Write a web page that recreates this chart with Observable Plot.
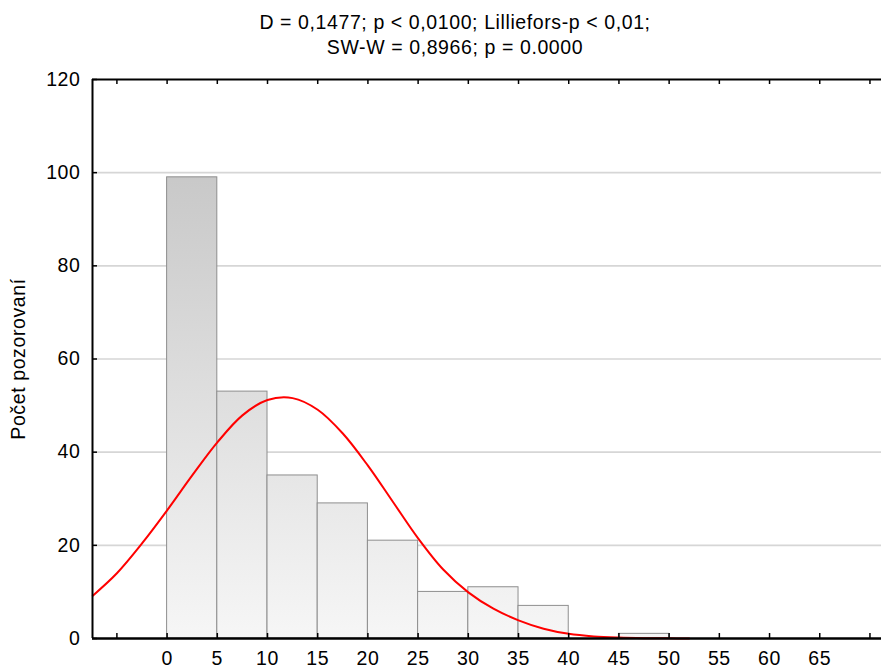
<!DOCTYPE html>
<html>
<head>
<meta charset="utf-8">
<script src="https://cdn.jsdelivr.net/npm/d3@7"></script>
<script src="https://cdn.jsdelivr.net/npm/@observablehq/plot@0.6"></script>
<style>
  html, body { margin: 0; padding: 0; background: #fff; }
  #wrap { width: 881px; height: 670px; overflow: hidden; font-family: "Liberation Sans", Arial, sans-serif; }
  #title { height: 64px; box-sizing: border-box; padding: 10px 0 0 29px; text-align: center;
           font-size: 19.5px; letter-spacing: 0.6px; line-height: 25px; color: #000; }
  svg { display: block; }
</style>
</head>
<body>
<div id="wrap">
  <div id="title"></div>
  <div id="chart"></div>
</div>
<script>
// Test statistics shown above the histogram
const titleLines = [
  "D = 0,1477; p < 0,0100; Lilliefors-p < 0,01;",
  "SW-W = 0,8966; p = 0.0000"
];

// Histogram: bin lower edges (width 5) and observed counts
const binStarts = [0, 5, 10, 15, 20, 25, 30, 35, 40, 45];
const binWidth = 5;
const counts = [99, 53, 35, 29, 21, 10, 11, 7, 0, 1];

// Expected normal curve, sampled along x
const curveX = [-7.4, -5, -2.5, 0, 2.5, 5, 7.5, 10, 12.5, 15, 17.5, 20, 22.5, 25, 27.5, 30, 32.5, 35, 37.5, 40, 42.5, 45, 47.5, 50, 52];
const curveY = [9.2, 14.0, 20.4, 27.5, 35.0, 42.1, 47.9, 51.2, 51.6, 49.1, 44.0, 37.1, 29.3, 21.5, 14.8, 9.9, 6.4, 3.9, 2.1, 1.0, 0.45, 0.2, 0.08, 0.03, 0.01];

// Axis ticks and labels
const xTicks = [-5, 0, 5, 10, 15, 20, 25, 30, 35, 40, 45, 50, 55, 60, 65, 70];
const xTickLabels = [0, 5, 10, 15, 20, 25, 30, 35, 40, 45, 50, 55, 60, 65];
const yTicks = [0, 20, 40, 60, 80, 100, 120];
const yGrid = [20, 40, 60, 80, 100];
const yTitle = "Počet pozorovaní";

document.getElementById("title").innerHTML = titleLines.map(t => `<div>${t.replace(/</g, "&lt;")}</div>`).join("");

const bins = binStarts.map((x, i) => ({x1: x, x2: x + binWidth, count: counts[i]})).filter(d => d.count > 0);
const curve = curveX.map((x, i) => ({x, y: curveY[i]}));

const W = 881, H = 606;
const mTop = 15, mBottom = 32, mLeft = 92, mRight = 0;
const innerH = H - mTop - mBottom;
const innerW = W - mLeft - mRight;
const xDomain = [-7.43, 71.15];

const chart = Plot.plot({
  width: W,
  height: H,
  marginTop: mTop,
  marginBottom: mBottom,
  marginLeft: mLeft,
  marginRight: mRight,
  style: {fontFamily: "'Liberation Sans', Arial, sans-serif", fontSize: "19px", color: "#000", background: "#fff", letterSpacing: "0.6px"},
  x: {domain: xDomain, axis: null},
  y: {domain: [0, 120], axis: null},
  marks: [
    Plot.gridY(yGrid, {stroke: "#d6d6d6", strokeOpacity: 1, strokeWidth: 1.6}),
    Plot.rectY(bins, {x1: "x1", x2: "x2", y: "count", fill: "url(#barShade)", stroke: "#8e8e8e", strokeWidth: 1}),
    Plot.line(curve, {x: "x", y: "y", stroke: "#ff0000", strokeWidth: 2, curve: "catmull-rom"}),
    // frame lines: left, top and bottom
    Plot.ruleX([xDomain[0]], {stroke: "#000", strokeWidth: 2}),
    Plot.ruleY([120], {stroke: "#000", strokeWidth: 2}),
    Plot.ruleY([0], {stroke: "#000", strokeWidth: 2.5}),
    // inward tick marks
    Plot.tickX(xTicks, {x: d => d, stroke: "#000", strokeWidth: 1.5, insetTop: innerH - 5}),
    Plot.tickX(xTicks, {x: d => d, stroke: "#000", strokeWidth: 1.5, insetBottom: innerH - 5}),
    Plot.tickY(yTicks, {y: d => d, stroke: "#000", strokeWidth: 1.5, insetRight: innerW - 5}),
    // tick labels
    Plot.axisX(xTickLabels, {anchor: "bottom", tickSize: 0, tickPadding: 13, label: null, fontSize: 19.5}),
    Plot.axisY(yTicks, {anchor: "left", tickSize: 0, tickPadding: 12, label: null, fontSize: 19.5}),
    Plot.text([yTitle], {frameAnchor: "left", dx: -74, rotate: -90, text: d => d, fontSize: 19.5, textAnchor: "middle"})
  ]
});

// vertical shading shared by all bars (dark at top of the plot, light at the baseline)
const ns = "http://www.w3.org/2000/svg";
const defs = document.createElementNS(ns, "defs");
const grad = document.createElementNS(ns, "linearGradient");
grad.setAttribute("id", "barShade");
grad.setAttribute("gradientUnits", "userSpaceOnUse");
grad.setAttribute("x1", 0); grad.setAttribute("x2", 0);
grad.setAttribute("y1", mTop); grad.setAttribute("y2", mTop + innerH);
[["0", "#bfbfbf"], ["1", "#f6f6f6"]].forEach(([o, c]) => {
  const s = document.createElementNS(ns, "stop");
  s.setAttribute("offset", o); s.setAttribute("stop-color", c);
  grad.appendChild(s);
});
defs.appendChild(grad);
chart.insertBefore(defs, chart.firstChild);

document.getElementById("chart").appendChild(chart);
</script>
</body>
</html>
